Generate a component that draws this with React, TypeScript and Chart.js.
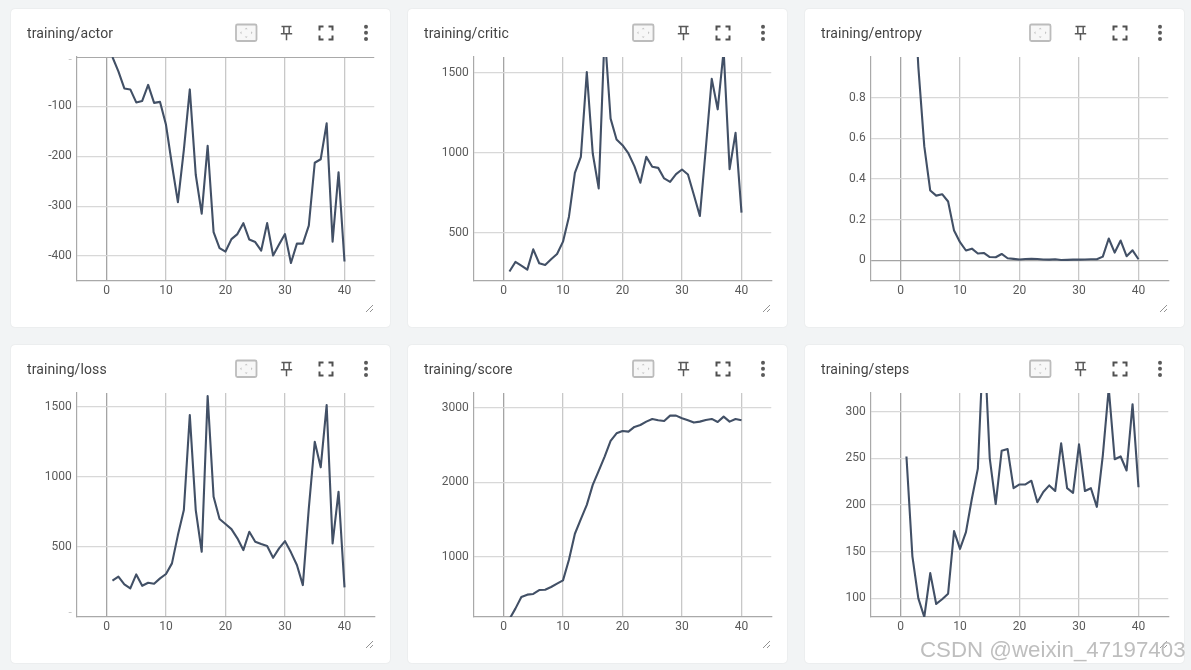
import React, { useEffect, useRef } from "react";
import { Chart, registerables } from "chart.js";

Chart.register(...registerables);

const steps = [1,2,3,4,5,6,7,8,9,10,11,12,13,14,15,16,17,18,19,20,21,22,23,24,25,26,27,28,29,30,31,32,33,34,35,36,37,38,39,40];
const xTicks = [0, 10, 20, 30, 40];

const actor = [-1,-30,-64,-66,-92,-89,-57,-93,-91,-137,-217,-292,-187,-66,-237,-315,-179,-352,-384,-391,-366,-356,-334,-367,-372,-389,-334,-399,-377,-356,-414,-375,-375,-339,-213,-206,-134,-371,-232,-411];
const critic = [259,319,296,271,398,311,300,336,369,446,602,876,976,1506,997,779,1750,1215,1084,1049,997,918,814,976,914,907,841,820,868,897,866,737,606,1028,1463,1273,1640,899,1126,627];
const entropy = [2.2,1.5,0.95,0.56,0.343,0.318,0.325,0.289,0.146,0.089,0.048,0.057,0.033,0.036,0.016,0.015,0.031,0.01,0.007,0.004,0.006,0.007,0.006,0.004,0.003,0.005,0.001,0.002,0.003,0.003,0.004,0.005,0.005,0.018,0.107,0.038,0.097,0.02,0.049,0.005];
const loss = [257,286,231,202,302,221,243,236,274,305,381,583,762,1440,762,464,1576,857,698,662,626,560,476,607,536,519,505,421,488,540,460,369,226,774,1250,1067,1512,524,893,210];
const score = [170,310,465,497,506,559,563,599,644,688,964,1312,1508,1699,1967,2154,2345,2555,2657,2688,2679,2742,2768,2813,2849,2831,2822,2893,2893,2857,2831,2800,2813,2835,2849,2808,2880,2813,2849,2831];
const stepsPerEpisode = [252,145,100,80,127,94,99,105,172,153,171,207,239,385,250,201,258,260,218,222,222,226,203,214,221,215,266,218,213,265,215,218,198,253,325,249,252,237,308,219];

const panels = [
  { title: "training/actor", values: actor, min: -450, max: -1, ticks: [-400, -300, -200, -100], dash: -7, top: true, col: 0, row: 0 },
  { title: "training/critic", values: critic, min: 200, max: 1600, ticks: [500, 1000, 1500], col: 1, row: 0 },
  { title: "training/entropy", values: entropy, min: -0.102, max: 1, ticks: [0, 0.2, 0.4, 0.6, 0.8], col: 2, row: 0 },
  { title: "training/loss", values: loss, min: -2, max: 1598, ticks: [500, 1000, 1500], dash: 30, col: 0, row: 1 },
  { title: "training/score", values: score, min: 198, max: 3196, ticks: [1000, 2000, 3000], col: 1, row: 1 },
  { title: "training/steps", values: stepsPerEpisode, min: 80, max: 320, ticks: [100, 150, 200, 250, 300], col: 2, row: 1 },
];

const FONT = "Roboto";
const SOFT = "blur(0.4px)";

function Icons() {
  const c = "#5a5a5a";
  return (
    <svg width={379} height={318} style={{ position: "absolute", left: 0, top: 0, pointerEvents: "none", filter: SOFT }}>
      <rect x={225} y={15.5} width={20.5} height={16.5} rx={1.5} fill="#f7f7f7" stroke="#bcbcbc" strokeWidth={1.8} />
      <path d="M229 23.7l1.5-1.5v3zM241.5 23.7l-1.5-1.5v3zM235.2 18.7l-1.5 1.5h3zM235.2 29l-1.5-1.5h3z" fill="#c4c4c4" />
      <path d="M270.5 17.5h10M272.8 17.5v7M278.2 17.5v7M269.8 24.7h11.4M275.5 24.7v6.5" stroke={c} strokeWidth={1.5} fill="none" />
      <path d="M308.5 21.5v-4h4M317.5 17.5h4v4M321.5 26.5v4h-4M312.5 30.5h-4v-4" stroke="#505050" strokeWidth={2} fill="none" />
      <circle cx={355} cy={17.8} r={2} fill={c} />
      <circle cx={355} cy={23.8} r={2} fill={c} />
      <circle cx={355} cy={30} r={2} fill={c} />
      <path d="M355 303l7-7M359 303l3-3" stroke="#777" strokeWidth={0.8} fill="none" />
    </svg>
  );
}

function Panel({ p }: { p: (typeof panels)[number] }) {
  const ref = useRef<HTMLCanvasElement>(null);
  useEffect(() => {
    const yTicks = p.dash !== undefined ? [...p.ticks, p.dash] : p.ticks;
    const chart = new Chart(ref.current!, {
      type: "line",
      data: {
        datasets: [
          {
            data: steps.map((s, i) => ({ x: s, y: p.values[i] })),
            borderColor: "#425066",
            borderWidth: 2.1,
            pointRadius: 0,
            tension: 0,
            borderJoinStyle: "round",
          },
        ],
      },
      options: {
        animation: false,
        responsive: false,
        devicePixelRatio: 1,
        layout: { padding: { left: 0, top: 48, right: 15.75, bottom: 0 } },
        plugins: { legend: { display: false }, tooltip: { enabled: false } },
        scales: {
          x: {
            type: "linear",
            min: -5,
            max: 45,
            afterBuildTicks: (s: any) => {
              s.ticks = xTicks.map((value) => ({ value }));
            },
            afterFit: (s: any) => {
              s.height = 46;
            },
            ticks: {
              autoSkip: false,
              maxRotation: 0,
              padding: 3,
              color: "#5a5a5a",
              font: { family: FONT, size: 12 },
            },
            grid: {
              drawTicks: false,
              lineWidth: 1.3,
              color: (ctx: any) => (ctx.tick?.value === 0 ? "#a4a4a4" : "#c8c8c8"),
            },
            border: { display: true, color: "#a9a9a9", width: 1.2 },
          },
          y: {
            type: "linear",
            min: p.min,
            max: p.max,
            afterBuildTicks: (s: any) => {
              s.ticks = yTicks.map((value) => ({ value }));
            },
            afterFit: (s: any) => {
              s.width = 65.75;
            },
            ticks: {
              autoSkip: false,
              padding: 5,
              color: (ctx: any) => (ctx.tick?.value === p.dash ? "#c8c8c8" : "#5a5a5a"),
              font: { family: FONT, size: 12 },
              callback: (v: any) => (v === p.dash ? "-" : String(v)),
            },
            grid: {
              drawTicks: false,
              lineWidth: 1.3,
              color: (ctx: any) => {
                const v = ctx.tick?.value;
                if (v === p.dash) return "rgba(0,0,0,0)";
                if (v === 0) return "#a4a4a4";
                return "#d8d8d8";
              },
            },
            border: { display: true, color: "#a9a9a9", width: 1.2 },
          },
        },
      },
      plugins: p.top
        ? [
            {
              id: "topEdge",
              beforeDatasetsDraw(c: any) {
                const { ctx, chartArea: a } = c;
                ctx.save();
                ctx.strokeStyle = "#a9a9a9";
                ctx.lineWidth = 1;
                ctx.beginPath();
                ctx.moveTo(a.left, a.top + 0.5);
                ctx.lineTo(a.right, a.top + 0.5);
                ctx.stroke();
                ctx.restore();
              },
            },
          ]
        : [],
    } as any);
    return () => chart.destroy();
  }, [p]);

  return (
    <div
      style={{
        position: "absolute",
        left: 11 + p.col * 397,
        top: 9 + p.row * 336,
        width: 379,
        height: 318,
        background: "#ffffff",
        borderRadius: 4,
        boxShadow: "0 0 1.5px rgba(0,0,0,0.12)",
      }}
    >
      <canvas ref={ref} width={379} height={318} style={{ position: "absolute", left: 0, top: 0, width: 379, height: 318, filter: SOFT }} />
      <div
        style={{
          position: "absolute",
          left: 16,
          top: 15,
          fontFamily: FONT,
          fontSize: 14,
          lineHeight: "18px",
          color: "#444444",
          letterSpacing: 0.1,
          filter: SOFT,
        }}
      >
        {p.title}
      </div>
      <Icons />
    </div>
  );
}

export default function App() {
  return (
    <div style={{ position: "fixed", left: 0, top: 0, width: 1191, height: 670, overflow: "hidden", background: "#f2f4f5" }}>
      {panels.map((p) => (
        <Panel key={p.title} p={p} />
      ))}
      <div
        style={{
          position: "absolute",
          left: 920,
          top: 637,
          fontFamily: "'Liberation Sans'",
          fontSize: 22.3,
          lineHeight: "26px",
          color: "rgba(165,165,165,0.72)",
          textShadow: "0 0 2px rgba(255,255,255,0.9)",
          whiteSpace: "nowrap",
        }}
      >
        CSDN @weixin_47197403
      </div>
    </div>
  );
}
